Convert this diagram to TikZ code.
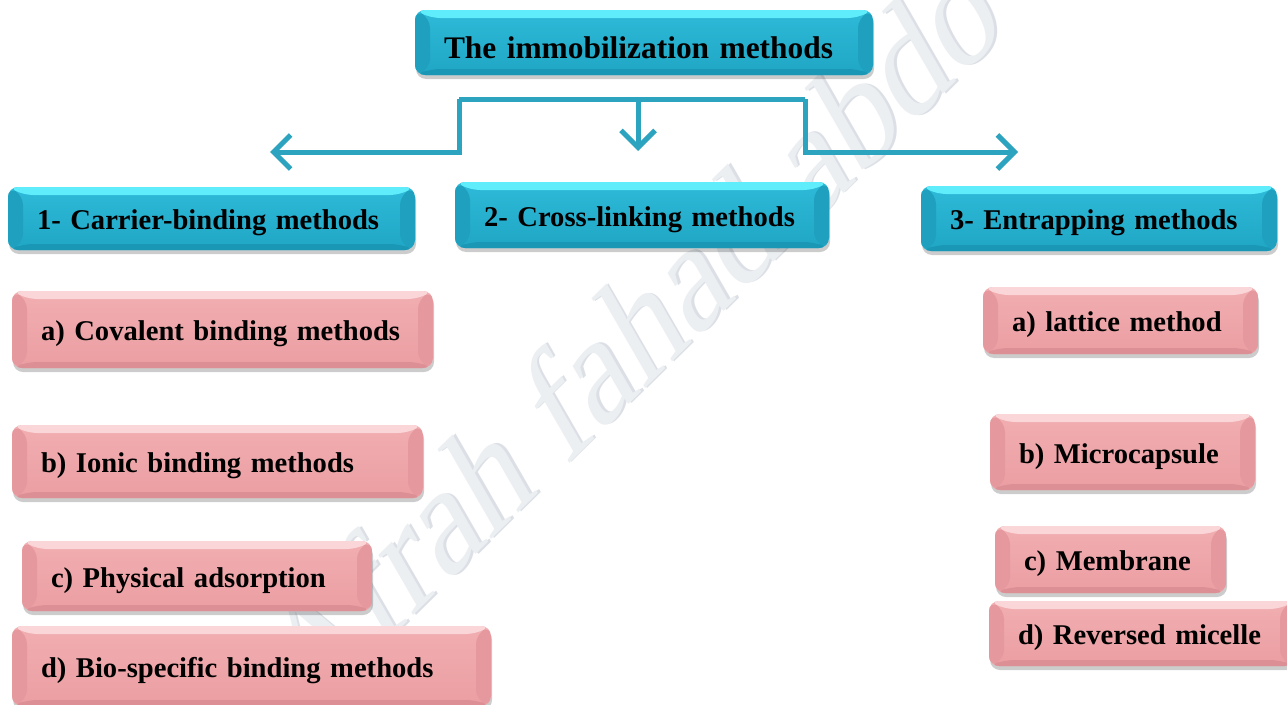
\documentclass[tikz,border=0pt]{standalone}
\usepackage{fontspec}
\setmainfont{Liberation Serif}
\usetikzlibrary{arrows.meta,shadows}
\definecolor{lineblue}{HTML}{2CA3BF}
\definecolor{bBody}{HTML}{20A6C5}
\definecolor{bBodyTop}{HTML}{2DBAD8}
\definecolor{bTop}{HTML}{5FEDFC}
\definecolor{bSide}{HTML}{1EA0BE}
\definecolor{bBot}{HTML}{1A97B4}
\definecolor{pBody}{HTML}{EB9EA2}
\definecolor{pBodyTop}{HTML}{F1AEB1}
\definecolor{pTop}{HTML}{FAD6D8}
\definecolor{pSide}{HTML}{E5989D}
\definecolor{pBot}{HTML}{DC9096}
\definecolor{wmark}{HTML}{ECEFF2}
\definecolor{wmarkedge}{HTML}{DCE0E6}
\tikzset{
  bevelbox/.style n args={5}{%
    rounded corners=10pt, inner xsep=29pt, inner ysep=0pt, align=left,
    top color=#1, bottom color=#2,
    drop shadow={shadow xshift=1pt, shadow yshift=-4pt, opacity=0.2, fill=black},
    path picture={
      \fill[#3] (path picture bounding box.north west) -- (path picture bounding box.north east)
        -- ([shift={(-15pt,-8pt)}]path picture bounding box.north east)
        -- ([shift={(15pt,-8pt)}]path picture bounding box.north west) -- cycle;
      \fill[#4] (path picture bounding box.north west) -- ([shift={(15pt,-8pt)}]path picture bounding box.north west)
        -- ([shift={(15pt,6pt)}]path picture bounding box.south west) -- (path picture bounding box.south west) -- cycle;
      \fill[#4] (path picture bounding box.north east) -- ([shift={(-15pt,-8pt)}]path picture bounding box.north east)
        -- ([shift={(-15pt,6pt)}]path picture bounding box.south east) -- (path picture bounding box.south east) -- cycle;
      \fill[#5] (path picture bounding box.south west) -- (path picture bounding box.south east)
        -- ([shift={(-15pt,6pt)}]path picture bounding box.south east)
        -- ([shift={(15pt,6pt)}]path picture bounding box.south west) -- cycle;
    }},
  bluebox/.style={bevelbox={bBodyTop}{bBody}{bTop}{bSide}{bBot},
    font=\bfseries\fontsize{28.6}{34}\selectfont, text height=22pt, text depth=0pt},
  titlebox/.style={bevelbox={bBodyTop}{bBody}{bTop}{bSide}{bBot},
    font=\bfseries\fontsize{31.4}{38}\selectfont, text height=31pt, text depth=0pt},
  pinkbox/.style={bevelbox={pBodyTop}{pBody}{pTop}{pSide}{pBot},
    font=\bfseries\fontsize{28.6}{34}\selectfont, text height=22pt, text depth=0pt},
  conn/.style={draw=lineblue, line width=5pt},
  arrowend/.style={-{Straight Barb[length=17pt,width=34pt]}},
  wmtext/.style={transform shape, anchor=base west, inner sep=0pt, font=\fontsize{164}{164}\selectfont}
}
\begin{document}
\begin{tikzpicture}[x=1pt,y=-1pt]
\useasboundingbox (0,0) rectangle (1287,704);
\fill[white] (0,0) rectangle (1287,704);
% watermark
\begin{scope}
\clip (0,0) rectangle (1287,704);
\begin{scope}[shift={(306,722)}, xscale=0.766, rotate=37]
\node[wmtext, text=wmarkedge] (wmshadow) at (3,2) {Afrah fahad abdo};
\node[wmtext, text=wmark] (wm) at (0,0) {Afrah fahad abdo};
\end{scope}
\end{scope}
% connectors
\coordinate (hubL) at (459,99);
\coordinate (hubM) at (638,99);
\coordinate (hubR) at (805,99);
\coordinate (tipL) at (270,152);
\coordinate (tipM) at (638,151);
\coordinate (tipR) at (1018,152);
\draw[conn] (hubL) -- (hubR);
\draw[conn,arrowend] (hubL) |- (tipL);
\draw[conn,arrowend] (hubM) -- (tipM);
\draw[conn,arrowend] (hubR) |- (tipR);
% title
\node[titlebox, minimum width=458pt, minimum height=65pt, text width=400pt] (title) at (644,42.5) {\mbox{The immobilization methods}};
% level 1
\node[bluebox, minimum width=407pt, minimum height=63pt, text width=349pt] (c1) at (211.5,218.5) {\mbox{1- Carrier-binding methods}};
\node[bluebox, minimum width=374pt, minimum height=66pt, text width=316pt] (c2) at (642,215) {\mbox{2- Cross-linking methods}};
\node[bluebox, minimum width=356pt, minimum height=65pt, text width=298pt] (c3) at (1099,218.5) {\mbox{3- Entrapping methods}};
% carrier binding items
\node[pinkbox, minimum width=421pt, minimum height=77pt, text width=363pt] (p1a) at (222.5,329.5) {\mbox{a) Covalent binding methods}};
\node[pinkbox, minimum width=411pt, minimum height=73pt, text width=353pt] (p1b) at (217.5,461.5) {\mbox{b) Ionic binding methods}};
\node[pinkbox, minimum width=350pt, minimum height=70pt, text width=292pt] (p1c) at (197,576) {\mbox{c) Physical adsorption}};
\node[pinkbox, minimum width=479pt, minimum height=80pt, text width=421pt] (p1d) at (251.5,666) {\mbox{d) Bio-specific binding methods}};
% entrapping items
\node[pinkbox, minimum width=275pt, minimum height=67pt, text width=217pt] (p3a) at (1120.5,320.5) {\mbox{a) lattice method}};
\node[pinkbox, minimum width=265pt, minimum height=76pt, text width=207pt] (p3b) at (1122.5,452) {\mbox{b) Microcapsule}};
\node[pinkbox, minimum width=231pt, minimum height=67pt, text width=173pt] (p3c) at (1110.5,559.5) {\mbox{c) Membrane}};
\node[pinkbox, minimum width=306pt, minimum height=65pt, text width=248pt] (p3d) at (1142,633.5) {\mbox{d) Reversed micelle}};
\end{tikzpicture}
\end{document}
